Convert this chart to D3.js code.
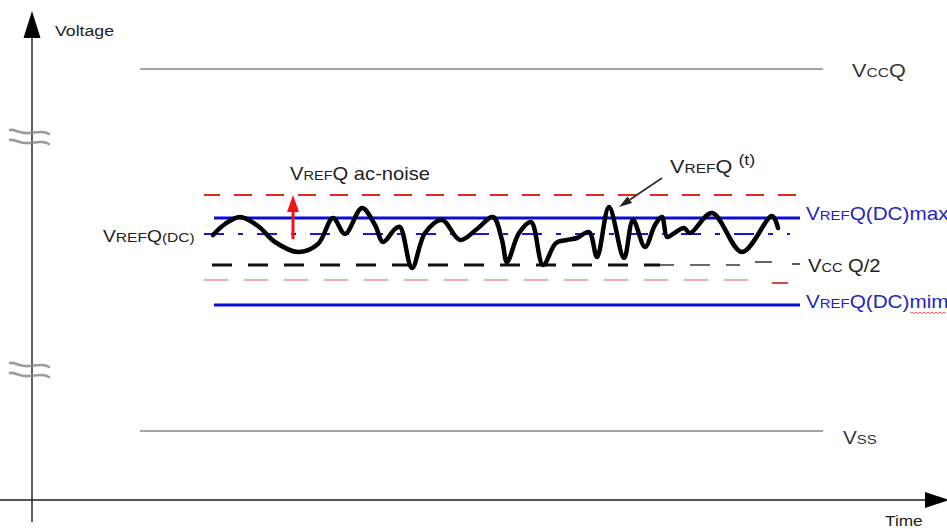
<!DOCTYPE html>
<html>
<head>
<meta charset="utf-8">
<script src="https://cdn.jsdelivr.net/npm/d3@7"></script>
<style>
  html, body { margin: 0; padding: 0; background: #fff; }
  svg { display: block; }
</style>
</head>
<body>
<svg id="chart" width="947" height="529"></svg>
<script>
// Reference voltage levels (arbitrary units along the voltage axis)
const levelVccq = 43.1;
const levelVss = 6.9;
const levelNoiseTop = 30.5;
const levelDcMax = 28.2;
const levelDc = 26.6;
const levelHalf = 23.5;
const levelNoiseBottom = 22.0;
const levelDcMin = 19.5;

// Time extents of the reference lines
const railSpan = [108, 791];
const dcSpan = [182, 768];
const noiseSpan = [172, 768];
const dcDashSpan = [172, 758];
const halfSpan = [180, 628];
const halfFadeSpan = [628, 708];
const noiseBottomSpan = [172, 728];

// Sampled VREFQ(t) waveform: [time, voltage]
const waveTime = [181, 193, 208, 226, 243, 266, 286, 301, 313, 330, 343, 351, 363, 368, 380, 393, 410, 428, 445, 461,
                  470, 475, 487, 499, 511, 524, 535, 545, 557, 565, 577, 592, 601, 613, 623, 630, 635, 641, 652, 658,
                  680, 710, 740, 746];
const waveVolt = [26.5, 27.6, 28.3, 27.4, 25.8, 24.8, 25.6, 28.2, 26.6, 29.2, 27.5, 25.8, 27.1, 27.3, 23.2, 26.7, 28.0, 26.0, 27.1, 28.3,
                  26.0, 23.8, 26.7, 27.8, 23.5, 25.7, 26.0, 26.2, 26.8, 24.3, 29.3, 24.2, 28.0, 25.3, 27.5, 28.3, 26.3, 26.6, 27.2, 26.7,
                  28.7, 24.8, 28.4, 27.2];

// Labels; text in braces is set in small capitals
const labelY = "Voltage";
const labelX = "Time";
const labelVccq = "V{CC}Q";
const labelVss = "V{SS}";
const labelDcMax = "V{REF}Q(DC)max";
const labelDcMin = "V{REF}Q(DC)mim";
const labelDc = "V{REF}Q{(DC)}";
const labelHalf = "V{CC} Q/2";
const labelNoise = "V{REF}Q ac-noise";
const labelWave = "V{REF}Q";
const labelWaveSup = "(t)";

const svg = d3.select("#chart");
const x = d3.scaleLinear().domain([0, 915]).range([32, 947]);
const y = d3.scaleLinear().domain([0, 50]).range([500, 0]);
const FONT = "'Liberation Sans', Arial, Helvetica, sans-serif";

// ---- axes ----
const axisColor = "#1a1a1a";
svg.append("line")
  .attr("x1", x(0)).attr("x2", x(0))
  .attr("y1", y(46.2)).attr("y2", y(-2.2))
  .attr("stroke", axisColor).attr("stroke-width", 1.4);
svg.append("path")
  .attr("d", `M${x(0)},${y(48.9)} L${x(0) - 8.5},${y(46.2)} L${x(0) + 8.5},${y(46.2)} Z`)
  .attr("fill", "#000");
svg.append("line")
  .attr("x1", x(-32)).attr("x2", x(895))
  .attr("y1", y(0)).attr("y2", y(0))
  .attr("stroke", axisColor).attr("stroke-width", 1.4);
svg.append("path")
  .attr("d", `M${x(917)},${y(0)} L${x(893)},${y(0) - 8} L${x(893)},${y(0) + 8} Z`)
  .attr("fill", "#000");

// axis break marks
function breakMark(level) {
  const cy = y(level);
  [-5, 5].forEach(off => {
    const yy = cy + off;
    svg.append("path")
      .attr("d", `M${x(-22)},${yy - 2} C${x(-17)},${yy - 3} ${x(-12)},${yy + 2} ${x(-3)},${yy + 1} S${x(12)},${yy - 1} ${x(17)},${yy + 2}`)
      .attr("fill", "none").attr("stroke", "#8a8a8a").attr("stroke-width", 2.6)
      .attr("stroke-linecap", "round").attr("opacity", 0.85);
  });
}
breakMark(36.3);
breakMark(13.0);

// ---- text helper ----
function richLabel(px, py, spec, opts) {
  const o = Object.assign({ size: 18, small: 13, fill: "#222", sx: 1.15 }, opts || {});
  const g = svg.append("g").attr("transform", `translate(${px},${py}) scale(${o.sx},1)`);
  const t = g.append("text").attr("font-family", FONT).attr("fill", o.fill);
  const re = /\{([^}]*)\}|([^{]+)/g;
  let m;
  while ((m = re.exec(spec)) !== null) {
    if (m[1] !== undefined) t.append("tspan").attr("font-size", o.small).text(m[1]);
    else t.append("tspan").attr("font-size", o.size).text(m[2]);
  }
  return t;
}

// ---- rails ----
[levelVccq, levelVss].forEach(v => {
  svg.append("line")
    .attr("x1", x(railSpan[0])).attr("x2", x(railSpan[1]))
    .attr("y1", y(v)).attr("y2", y(v))
    .attr("stroke", "#4a4a4a").attr("stroke-width", 1.2);
});

// ---- noise band and DC window ----
function hline(span, v, stroke, width, dash) {
  const l = svg.append("line")
    .attr("x1", x(span[0])).attr("x2", x(span[1]))
    .attr("y1", y(v)).attr("y2", y(v))
    .attr("stroke", stroke).attr("stroke-width", width);
  if (dash) l.attr("stroke-dasharray", dash);
  return l;
}
hline(noiseSpan, levelNoiseTop, "#e8281f", 1.8, "18,14").attr("stroke-dashoffset", 2);
hline(noiseBottomSpan, levelNoiseBottom, "#f2aaaa", 1.8, "24,16");
hline(dcDashSpan, levelDc, "#1616e0", 2, "20,14,5,14");
hline(halfSpan, levelHalf, "#111", 3, "20,16");
hline(halfFadeSpan, levelHalf, "#6a6a6a", 2, "20,16").attr("stroke-dashoffset", 6);
hline(dcSpan, levelDcMax, "#0b0bd6", 3);
hline(dcSpan, levelDcMin, "#0b0bd6", 3);

// end-of-line marks leading into the VccQ/2 label
hline([723, 740], levelHalf + 0.3, "#222", 1.4);
hline([740, 756], levelNoiseBottom - 0.3, "#e04444", 2);
hline([760, 768], levelHalf + 0.1, "#333", 1.6);

// ---- VREFQ(t) waveform ----
const wave = waveTime.map((t, i) => [t, waveVolt[i]]);
svg.append("path")
  .datum(wave)
  .attr("d", d3.line().x(d => x(d[0])).y(d => y(d[1])).curve(d3.curveCatmullRom.alpha(0.5)))
  .attr("fill", "none").attr("stroke", "#000").attr("stroke-width", 4.5)
  .attr("stroke-linejoin", "round").attr("stroke-linecap", "round");

// ---- ac-noise arrow ----
const arrowT = 261;
svg.append("line")
  .attr("x1", x(arrowT)).attr("x2", x(arrowT))
  .attr("y1", y(levelDc - 0.5)).attr("y2", y(levelNoiseTop - 1.5))
  .attr("stroke", "#f01414").attr("stroke-width", 3);
svg.append("path")
  .attr("d", `M${x(arrowT)},${y(levelNoiseTop)} L${x(arrowT) - 6},${y(levelNoiseTop - 1.7)} L${x(arrowT) + 6},${y(levelNoiseTop - 1.7)} Z`)
  .attr("fill", "#f01414");

// ---- pointer to the waveform ----
const tipT = 587, tipV = 29.3;
const tailT = 630, tailV = 32.2;
const ang = Math.atan2(y(tailV) - y(tipV), x(tailT) - x(tipT));
const hl = 13, hw = 4;
const bx = x(tipT) + hl * Math.cos(ang), by = y(tipV) + hl * Math.sin(ang);
svg.append("line")
  .attr("x1", bx).attr("y1", by).attr("x2", x(tailT)).attr("y2", y(tailV))
  .attr("stroke", "#333").attr("stroke-width", 1.8);
svg.append("path")
  .attr("d", `M${x(tipT)},${y(tipV)} L${bx - hw * Math.sin(ang)},${by + hw * Math.cos(ang)} L${bx + hw * Math.sin(ang)},${by - hw * Math.cos(ang)} Z`)
  .attr("fill", "#222");

// ---- labels ----
const blue = "#2424c4";
richLabel(x(23), y(46.4), labelY, { size: 15, sx: 1.18, fill: "#222" });
richLabel(x(853), y(-2.55), labelX, { size: 15, sx: 1.15, fill: "#222" });
richLabel(x(820), y(42.3), labelVccq, { fill: "#333", sx: 1.2 });
richLabel(x(811), y(5.6), labelVss, { fill: "#333" });
richLabel(x(774), y(28.0), labelDcMax, { fill: blue });
richLabel(x(774), y(19.2), labelDcMin, { fill: blue });
richLabel(x(71), y(25.8), labelDc, { size: 16, small: 13, sx: 1.2, fill: "#222" });
richLabel(x(776), y(22.8), labelHalf, { fill: "#222", sx: 1.12 });
richLabel(x(258), y(32.0), labelNoise, { fill: "#222", sx: 1.12 });
const waveLabel = richLabel(x(638), y(32.7), labelWave, { fill: "#222", sx: 1.2 });
waveLabel.append("tspan").attr("font-size", 15).attr("dx", 5).attr("dy", -8).text(labelWaveSup);

// spell-check style squiggle under the "mim" suffix
const sq = [];
for (let px = 910; px <= 947; px += 2) sq.push([px, y(19.2) + 4 + ((px / 2) % 2 === 0 ? 0 : 1.6)]);
svg.append("path")
  .attr("d", d3.line()(sq))
  .attr("fill", "none").attr("stroke", "#e05050").attr("stroke-width", 0.9);
</script>
</body>
</html>
